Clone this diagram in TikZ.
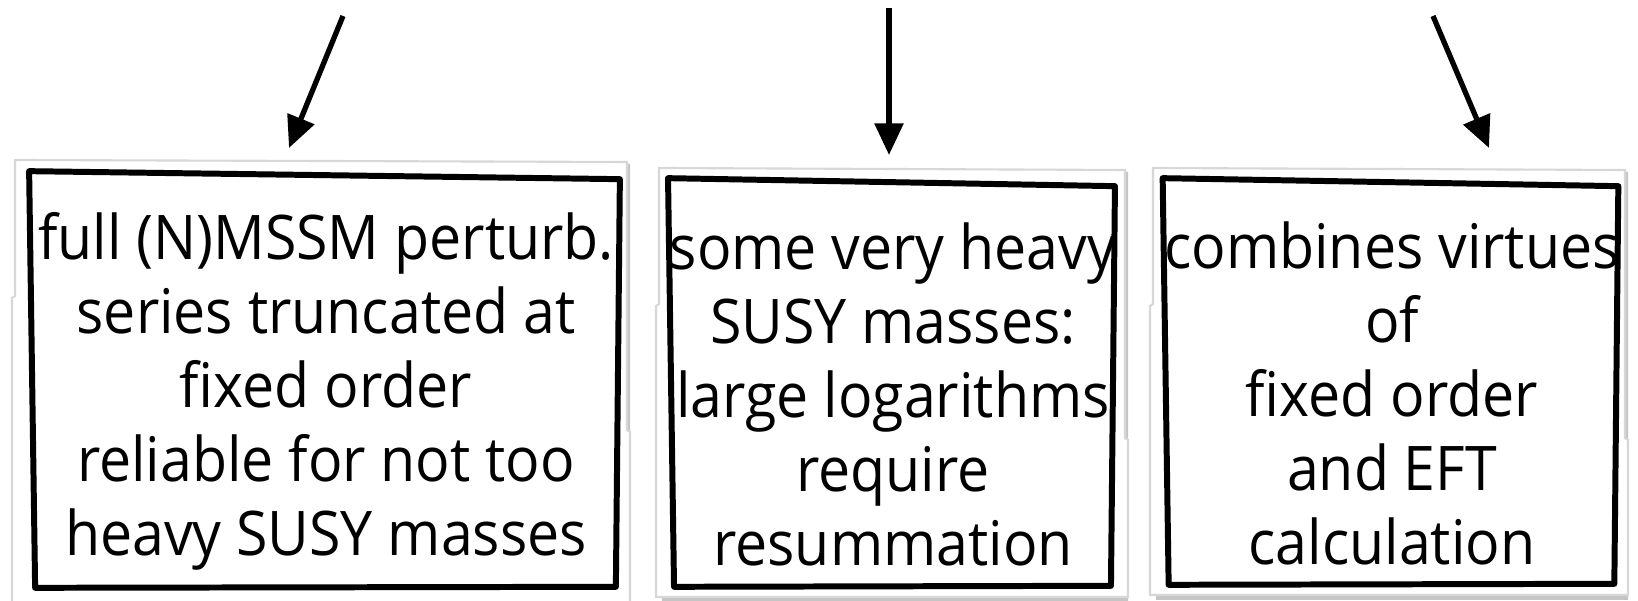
\documentclass[tikz,border=0pt]{standalone}
\usepackage{fontspec}
\setmainfont[FakeStretch=0.93]{Open Sans}
\usetikzlibrary{calc,arrows.meta}
\definecolor{paperEdge}{RGB}{215,215,215}
\definecolor{paperShade}{RGB}{150,150,150}
% sheet of paper behind a box: left, top, right, bottom
\newcommand{\PaperSheet}[4]{%
  \fill[paperShade,opacity=0.55] (#1+2,#2+3) -- (#3+3,#2+4) -- (#3+3,#4+5) -- (#1+3,#4+5) -- cycle;
  \filldraw[fill=white,draw=paperEdge,line width=0.6pt] (#1,#2) -- (#3,#2+2) -- (#3,#2+270) -- (#3+3,#2+272)
    -- (#3+3,#4) -- (#1-3,#4) -- (#1-3,#2+138) -- (#1,#2+136) -- cycle;}
% wobbly hand drawn frame round a node (text sits a little low in it)
\newcommand{\SketchFrame}[1]{%
  \draw[line width=1.7pt,line join=round] ($(#1.north west)+(-1,-14)$) -- ($(#1.north east)+(-2,-6)$)
    -- ($(#1.south east)+(-6,-10)$) -- ($(#1.south west)+(5,-9)$) -- cycle;}

\begin{document}
\begin{tikzpicture}[x=0.01cm,y=-0.01cm,
  textbox/.style={align=center,inner sep=0pt,font=\fontsize{17.5}{21.05}\selectfont},
  pointer/.style={line width=1.5pt,-{Triangle[length=9pt,width=8pt]}}]
\useasboundingbox (0,0) rectangle (1638,601);
\PaperSheet{15}{160}{627}{612}
\PaperSheet{659}{168}{1125}{597}
\PaperSheet{1153}{168}{1625}{595}

\node[textbox,minimum width=5.9cm,minimum height=4.1cm] (fixed) at (326,391)
  {full (N)MSSM perturb.\\ series truncated at\\ fixed order\\ reliable for not too\\ heavy SUSY masses};
\node[textbox,minimum width=4.38cm,minimum height=4.02cm] (eft) at (893,394)
  {some very heavy\\ SUSY masses:\\ large logarithms\\ require\\ resummation};
\node[textbox,minimum width=4.48cm,minimum height=4.0cm] (hybrid) at (1392,393)
  {combines virtues\\ of\\ fixed order\\ and EFT\\ calculation};
\SketchFrame{fixed}
\SketchFrame{eft}
\SketchFrame{hybrid}

\coordinate (fixedFrom) at (343,16);
\coordinate (fixedTo) at (289,148);
\coordinate (eftFrom) at (889,8);
\coordinate (eftTo) at (889,155);
\coordinate (hybridFrom) at (1433,16);
\coordinate (hybridTo) at (1489,148);
\draw[pointer] (fixedFrom) -- (fixedTo);
\draw[pointer] (eftFrom) -- (eftTo);
\draw[pointer] (hybridFrom) -- (hybridTo);
\end{tikzpicture}
\end{document}
